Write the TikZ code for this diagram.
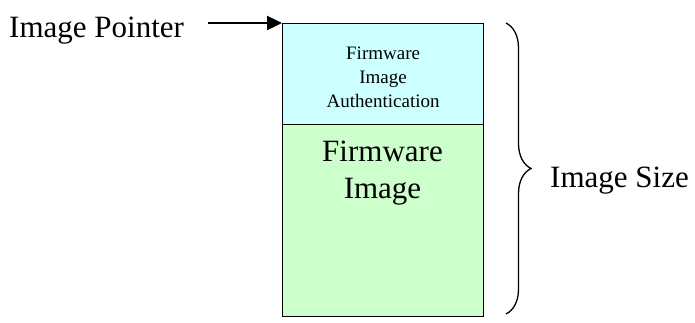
\documentclass[tikz,border=0pt]{standalone}
\usepackage{fontspec}
\setmainfont{Liberation Serif}
\usepackage{tikz}
\usetikzlibrary{arrows.meta,decorations.pathreplacing}

\definecolor{authcyan}{HTML}{CCFFFF}
\definecolor{fwgreen}{HTML}{CCFFCC}

\tikzset{
    bigtext/.style={font=\fontsize{31}{37}\selectfont, inner sep=0pt},
    smalltext/.style={font=\fontsize{19}{24}\selectfont, align=center},
    memblock/.style={draw=black, line width=1.2pt, inner sep=0pt, anchor=north west, minimum width=201pt}
}

\begin{document}
\begin{tikzpicture}[x=1pt, y=-1pt, >={Triangle[length=15pt, width=14pt]}]

    \useasboundingbox (0,0) rectangle (695,322);

    % memory blocks
    \node[memblock, fill=authcyan, minimum height=101pt] (auth) at (282,23) {};
    \node[memblock, fill=fwgreen, minimum height=192pt] (fw) at (282,124) {};

    \node[smalltext] (authtext) at ([yshift=-3pt]auth.center) {Firmware\\Image\\Authentication};
    \node[bigtext, align=center, anchor=north] (fwtext) at (382.5,141) {Firmware\\Image};

    % pointer
    \node[bigtext, anchor=base west] (ptr) at (9,37) {Image Pointer};
    \coordinate (ptrtail) at (208,23);
    \draw[->, line width=2.4pt] (ptrtail) -- (auth.north west);

    % size brace
    \coordinate (bracetop) at (506,23);
    \coordinate (bracebot) at (506,314);
    \draw[line width=1.3pt, decorate, decoration={brace, amplitude=25pt}] (bracetop) -- (bracebot);
    \node[bigtext, anchor=base west] (size) at (550,187) {Image Size};

\end{tikzpicture}
\end{document}
